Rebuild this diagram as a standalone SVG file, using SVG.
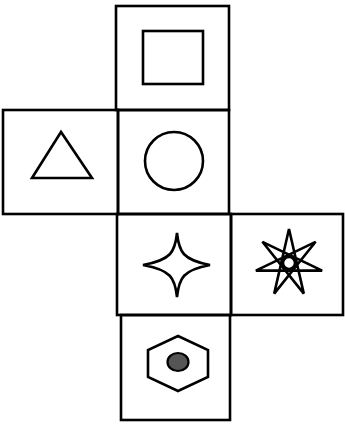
<svg xmlns="http://www.w3.org/2000/svg" width="345" height="424" viewBox="0 0 345 424">
<style>
.cell{fill:none;stroke:#000;stroke-width:2.6}
.shape{fill:none;stroke:#000;stroke-width:2.6;stroke-linejoin:miter}
</style>
<rect width="345" height="424" fill="#fff"/>
<g id="cell-square"><rect class="cell" x="116" y="6" width="113" height="104"/><rect class="shape" x="143" y="31" width="60" height="53"/></g>
<g id="cell-triangle"><rect class="cell" x="3" y="110" width="115" height="104"/><polygon class="shape" points="61,132 32,178 92,178"/></g>
<g id="cell-circle"><rect class="cell" x="118" y="110" width="111" height="104"/><circle class="shape" cx="174" cy="161" r="29"/></g>
<g id="cell-fourstar"><rect class="cell" x="117" y="214" width="114" height="101"/><path class="shape" d="M177,233 C179,252 183,260 210,265 C183,270 179,278 177,297 C175,278 171,270 143,265 C171,260 175,252 177,233 Z"/></g>
<g id="cell-sevenstar"><rect class="cell" x="231" y="214" width="112" height="101"/><path class="shape" stroke-width="3" d="M289,229 L303.8,293.6 L262.4,241.8 L322.1,270.6 L255.9,270.6 L315.6,241.8 L274.2,293.6 Z"/><circle class="shape" cx="289" cy="263" r="6"/></g>
<g id="cell-hexagon"><rect class="cell" x="121" y="315" width="109" height="105"/><polygon class="shape" points="178,336 208,350 208,377 178,391 148,377 148,350"/><ellipse cx="178" cy="362" rx="10.5" ry="9" fill="#555" stroke="#000" stroke-width="2.2"/></g>
</svg>
